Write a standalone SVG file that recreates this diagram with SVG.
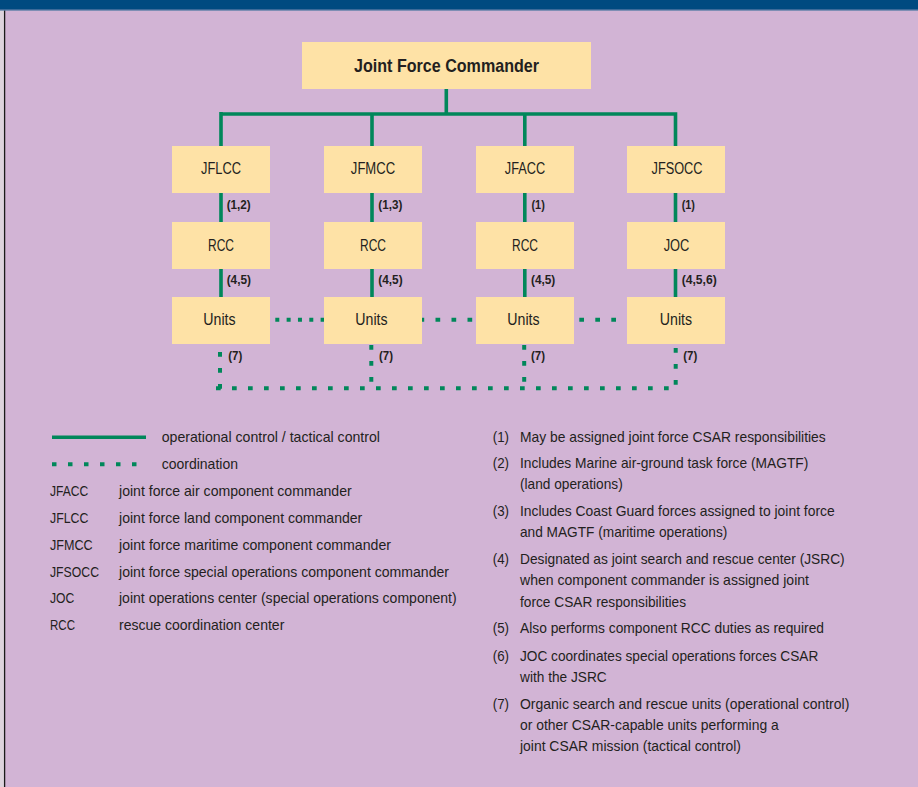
<svg xmlns="http://www.w3.org/2000/svg" width="918" height="787" viewBox="0 0 918 787">
<style>
text{font-family:"Liberation Sans",Arial,sans-serif;fill:#231f20}
.box{fill:#fee2a6}
.nt{font-size:16px;text-anchor:middle}
.title{font-size:19px;font-weight:bold;text-anchor:middle}
.el{font-size:12.5px;font-weight:bold}
.lg{font-size:14.3px}
.solid{stroke:#00875a;stroke-width:3.6;fill:none}
.dot{stroke:#00875a;stroke-width:4;fill:none;stroke-dasharray:4.7 11.3}
</style>
<rect x="0" y="0" width="918" height="787" fill="#d2b4d5"/>
<rect x="0" y="10" width="4" height="777" fill="#ddd3dd"/>
<line x1="4.6" y1="10" x2="4.6" y2="787" stroke="#1a1a1a" stroke-width="1.3"/>
<rect x="0" y="0" width="918" height="9.8" fill="#004a80"/>
<rect x="0" y="9.6" width="918" height="1.1" fill="#5a7ea6"/>

<g id="connectors">
<path class="solid" d="M446.3,89 V114 M219.2,114 H677.3 M221,112 V146 M372,114 V146 M524.8,114 V146 M675.5,114 V146"/>
<path class="solid" d="M221,193 V222 M372,193 V222 M524.8,193 V222 M675.5,193 V222"/>
<path class="solid" d="M221,269 V297 M372,269 V297 M524.8,269 V297 M675.5,269 V297"/>
<path class="dot" style="stroke-dasharray:4 7.33" d="M275.3,319.7 H324"/>
<path class="dot" d="M419.5,319.7 H476"/>
<path class="dot" d="M579.3,319.7 H628"/>
<path class="dot" d="M220,352 V390"/>
<path class="dot" d="M216,388.3 H671"/>
<path class="dot" d="M371.3,345 V382"/>
<path class="dot" d="M524.2,345 V382"/>
<path class="dot" d="M675.7,348 V385"/>
<text class="el" x="226.7" y="208.5" textLength="24" lengthAdjust="spacingAndGlyphs">(1,2)</text>
<text class="el" x="378.3" y="208.5" textLength="24" lengthAdjust="spacingAndGlyphs">(1,3)</text>
<text class="el" x="531.5" y="208.5" textLength="13.3" lengthAdjust="spacingAndGlyphs">(1)</text>
<text class="el" x="681.7" y="208.5" textLength="13.3" lengthAdjust="spacingAndGlyphs">(1)</text>
<text class="el" x="226.7" y="283.5" textLength="24.3" lengthAdjust="spacingAndGlyphs">(4,5)</text>
<text class="el" x="378.3" y="283.5" textLength="24.3" lengthAdjust="spacingAndGlyphs">(4,5)</text>
<text class="el" x="531" y="283.5" textLength="24.3" lengthAdjust="spacingAndGlyphs">(4,5)</text>
<text class="el" x="681.7" y="283.5" textLength="35" lengthAdjust="spacingAndGlyphs">(4,5,6)</text>
<text class="el" x="228.3" y="359.5" textLength="14" lengthAdjust="spacingAndGlyphs">(7)</text>
<text class="el" x="379" y="359.5" textLength="14" lengthAdjust="spacingAndGlyphs">(7)</text>
<text class="el" x="531" y="359.5" textLength="14" lengthAdjust="spacingAndGlyphs">(7)</text>
<text class="el" x="683.3" y="359.5" textLength="14" lengthAdjust="spacingAndGlyphs">(7)</text>
</g>

<g id="jfc"><rect class="box" x="302" y="42" width="289" height="47"/><text class="title" x="446.5" y="72.3" textLength="185" lengthAdjust="spacingAndGlyphs">Joint Force Commander</text></g>

<g id="jflcc"><rect class="box" x="172" y="146" width="98" height="47"/><text class="nt" x="221" y="174.3" textLength="40" lengthAdjust="spacingAndGlyphs">JFLCC</text></g>
<g id="jfmcc"><rect class="box" x="324" y="146" width="98" height="47"/><text class="nt" x="373" y="174.3" textLength="44.3" lengthAdjust="spacingAndGlyphs">JFMCC</text></g>
<g id="jfacc"><rect class="box" x="476" y="146" width="98" height="47"/><text class="nt" x="525" y="174.3" textLength="40.3" lengthAdjust="spacingAndGlyphs">JFACC</text></g>
<g id="jfsocc"><rect class="box" x="627" y="146" width="98" height="47"/><text class="nt" x="677" y="174.3" textLength="51" lengthAdjust="spacingAndGlyphs">JFSOCC</text></g>

<g id="rcc1"><rect class="box" x="172" y="222" width="98" height="47"/><text class="nt" x="221" y="250.5" textLength="26" lengthAdjust="spacingAndGlyphs">RCC</text></g>
<g id="rcc2"><rect class="box" x="324" y="222" width="98" height="47"/><text class="nt" x="373" y="250.5" textLength="26" lengthAdjust="spacingAndGlyphs">RCC</text></g>
<g id="rcc3"><rect class="box" x="476" y="222" width="98" height="47"/><text class="nt" x="525" y="250.5" textLength="26" lengthAdjust="spacingAndGlyphs">RCC</text></g>
<g id="joc"><rect class="box" x="627" y="222" width="98" height="47"/><text class="nt" x="676.5" y="250.5" textLength="25.7" lengthAdjust="spacingAndGlyphs">JOC</text></g>

<g id="units1"><rect class="box" x="172" y="297" width="98" height="47"/><text class="nt" x="219.5" y="325" textLength="32.3" lengthAdjust="spacingAndGlyphs">Units</text></g>
<g id="units2"><rect class="box" x="324" y="297" width="98" height="47"/><text class="nt" x="371.5" y="325" textLength="32.3" lengthAdjust="spacingAndGlyphs">Units</text></g>
<g id="units3"><rect class="box" x="476" y="297" width="98" height="47"/><text class="nt" x="523.5" y="325" textLength="32.3" lengthAdjust="spacingAndGlyphs">Units</text></g>
<g id="units4"><rect class="box" x="627" y="297" width="98" height="47"/><text class="nt" x="676" y="325" textLength="32.3" lengthAdjust="spacingAndGlyphs">Units</text></g>

<g id="legend">
<line class="solid" x1="52" y1="437.3" x2="146" y2="437.3" style="stroke-width:3.4"/>
<line class="dot" x1="52" y1="464.3" x2="137" y2="464.3" style="stroke-dasharray:4.5 11.5"/>
<text class="lg" x="161.7" y="441.7" textLength="218.3" lengthAdjust="spacingAndGlyphs">operational control / tactical control</text>
<text class="lg" x="161.7" y="468.7" textLength="76.3" lengthAdjust="spacingAndGlyphs">coordination</text>
<text class="lg" x="50" y="495.7" textLength="38.3" lengthAdjust="spacingAndGlyphs">JFACC</text>
<text class="lg" x="119" y="495.7" textLength="232.7" lengthAdjust="spacingAndGlyphs">joint force air component commander</text>
<text class="lg" x="50" y="522.7" textLength="38.3" lengthAdjust="spacingAndGlyphs">JFLCC</text>
<text class="lg" x="119" y="522.7" textLength="243.3" lengthAdjust="spacingAndGlyphs">joint force land component commander</text>
<text class="lg" x="50" y="549.5" textLength="42.7" lengthAdjust="spacingAndGlyphs">JFMCC</text>
<text class="lg" x="119" y="549.5" textLength="272" lengthAdjust="spacingAndGlyphs">joint force maritime component commander</text>
<text class="lg" x="50" y="576.5" textLength="49" lengthAdjust="spacingAndGlyphs">JFSOCC</text>
<text class="lg" x="119" y="576.5" textLength="330" lengthAdjust="spacingAndGlyphs">joint force special operations component commander</text>
<text class="lg" x="50" y="603.3" textLength="24.3" lengthAdjust="spacingAndGlyphs">JOC</text>
<text class="lg" x="119" y="603.3" textLength="337.7" lengthAdjust="spacingAndGlyphs">joint operations center (special operations component)</text>
<text class="lg" x="50" y="630.3" textLength="25" lengthAdjust="spacingAndGlyphs">RCC</text>
<text class="lg" x="119" y="630.3" textLength="165.3" lengthAdjust="spacingAndGlyphs">rescue coordination center</text>
</g>

<g id="notes">
<text class="lg" x="492.7" y="441.7" textLength="16.3" lengthAdjust="spacingAndGlyphs">(1)</text>
<text class="lg" x="520" y="441.7" textLength="305.7" lengthAdjust="spacingAndGlyphs">May be assigned joint force CSAR responsibilities</text>
<text class="lg" x="492.7" y="468.3" textLength="16.3" lengthAdjust="spacingAndGlyphs">(2)</text>
<text class="lg" x="520" y="468.3" textLength="288.3" lengthAdjust="spacingAndGlyphs">Includes Marine air-ground task force (MAGTF)</text>
<text class="lg" x="520" y="489" textLength="102.7" lengthAdjust="spacingAndGlyphs">(land operations)</text>
<text class="lg" x="492.7" y="516" textLength="16.3" lengthAdjust="spacingAndGlyphs">(3)</text>
<text class="lg" x="520" y="516" textLength="314.7" lengthAdjust="spacingAndGlyphs">Includes Coast Guard forces assigned to joint force</text>
<text class="lg" x="520" y="536.7" textLength="207.3" lengthAdjust="spacingAndGlyphs">and MAGTF (maritime operations)</text>
<text class="lg" x="492.7" y="564" textLength="16.3" lengthAdjust="spacingAndGlyphs">(4)</text>
<text class="lg" x="520" y="564" textLength="324.7" lengthAdjust="spacingAndGlyphs">Designated as joint search and rescue center (JSRC)</text>
<text class="lg" x="520" y="584.5" textLength="289" lengthAdjust="spacingAndGlyphs">when component commander is assigned joint</text>
<text class="lg" x="520" y="606.5" textLength="166" lengthAdjust="spacingAndGlyphs">force CSAR responsibilities</text>
<text class="lg" x="492.7" y="633.3" textLength="16.3" lengthAdjust="spacingAndGlyphs">(5)</text>
<text class="lg" x="520" y="633.3" textLength="304" lengthAdjust="spacingAndGlyphs">Also performs component RCC duties as required</text>
<text class="lg" x="492.7" y="660.7" textLength="16.3" lengthAdjust="spacingAndGlyphs">(6)</text>
<text class="lg" x="520" y="660.7" textLength="298.3" lengthAdjust="spacingAndGlyphs">JOC coordinates special operations forces CSAR</text>
<text class="lg" x="520" y="681.7" textLength="86.7" lengthAdjust="spacingAndGlyphs">with the JSRC</text>
<text class="lg" x="492.7" y="709" textLength="16.3" lengthAdjust="spacingAndGlyphs">(7)</text>
<text class="lg" x="520" y="709" textLength="329.3" lengthAdjust="spacingAndGlyphs">Organic search and rescue units (operational control)</text>
<text class="lg" x="520" y="729.5" textLength="258.7" lengthAdjust="spacingAndGlyphs">or other CSAR-capable units performing a</text>
<text class="lg" x="520" y="750.7" textLength="221" lengthAdjust="spacingAndGlyphs">joint CSAR mission (tactical control)</text>
</g>
</svg>
